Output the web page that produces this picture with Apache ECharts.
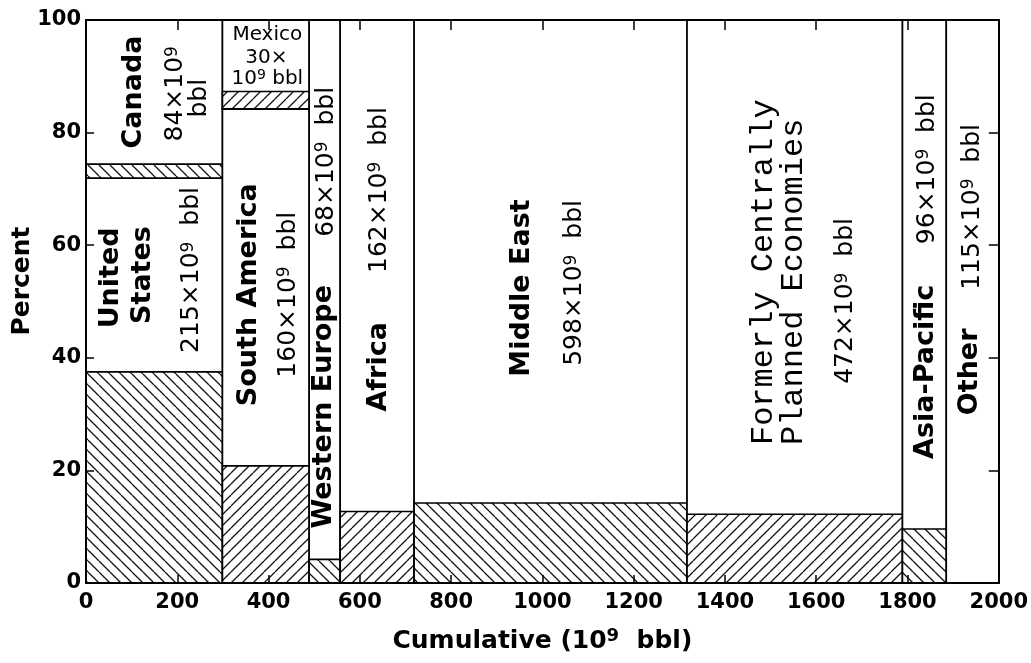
<!DOCTYPE html>
<html>
<head>
<meta charset="utf-8">
<script src="https://cdn.jsdelivr.net/npm/echarts@6/dist/echarts.min.js"></script>
<style>
  html, body { margin: 0; background: #fff; }
  #chart { width: 1031px; height: 663px; }
</style>
</head>
<body>
<div id="chart"></div>
<script>
// reserves by region (10^9 bbl), stacked into shared columns where needed
var regions = ['United States', 'Canada', 'South America', 'Mexico', 'Western Europe',
    'Africa', 'Middle East', 'Formerly Centrally Planned Economies', 'Asia-Pacific', 'Other'];
var reserves = [215, 84, 160, 30, 68, 162, 598, 472, 96, 115];
var columnOf = [0, 0, 1, 1, 2, 3, 4, 5, 6, 7];
// hatched (already produced) height, percent of column
var producedPct = [37.5, 2.5, 20.8, 3.1, 4.2, 12.7, 14.2, 12.2, 9.6, 0];
var xTickStep = 200;
var yTickStep = 20;

// hatch direction per region
var hatchDir = ['\\', '\\', '/', '/', '\\', '/', '\\', '/', '\\', ''];

// label lines: [text, style, dx px from column centre, y percent, rotated, align]
var labelCfg = [
    [['United', 'name', -43.5, 54.2], ['States', 'name', -11.5, 54.7], ['215\u00d710{s|9}  bbl', 'num', 37.5, 55.6]],
    [['Canada', 'name', -20.5, 87.2], ['84\u00d710{s|9}', 'num', 21.5, 86.9], ['bbl', 'num', 45.5, 86.1]],
    [['South America', 'name', -16.5, 51.2], ['160\u00d710{s|9}  bbl', 'num', 22.5, 51.2]],
    [['Mexico', 'small', 1.5, 97.4, false], ['30\u00d7', 'small', 0.5, 93.3, false], ['10{s|9} bbl', 'small', 1.5, 89.6, false]],
    [['Western Europe', 'name', -0.5, 31.3], ['68\u00d710{s|9}  bbl', 'num', 1.5, 74.8]],
    [['Africa', 'name', 2, 38.4], ['162\u00d710{s|9}  bbl', 'num', 2, 69.8]],
    [['Middle East', 'name', -29, 52.4], ['598\u00d710{s|9}  bbl', 'num', 24, 53.3]],
    [['Formerly Centrally', 'mono', -31, 24.5, true, 'left'], ['Planned Economies', 'mono', -1, 24.5, true, 'left'], ['472\u00d710{s|9}  bbl', 'num', 51, 50.1]],
    [['Asia-Pacific', 'name', 2, 37.5], ['96\u00d710{s|9}  bbl', 'num', 3, 73.5]],
    [['Other', 'name', -3, 37.5], ['115\u00d710{s|9}  bbl', 'num', -0.5, 66.8]]
];
var fonts = {
    name: { fontSize: 27, fontFamily: 'DejaVu Sans', fontWeight: 'bold' },
    num: { fontSize: 25, fontFamily: 'DejaVu Sans', fontWeight: 'normal', sup: 17, raise: 7 },
    small: { fontSize: 20, fontFamily: 'DejaVu Sans', fontWeight: 'normal', sup: 14, raise: 6 },
    mono: { fontSize: 32, fontFamily: 'Liberation Mono', fontWeight: 'normal' }
};

// column extents
var colTotals = [];
columnOf.forEach(function (c, i) { colTotals[c] = (colTotals[c] || 0) + reserves[i]; });
var colStart = [];
var acc = 0;
colTotals.forEach(function (t, c) { colStart[c] = acc; acc += t; });

var used = [];
var items = regions.map(function (name, i) {
    var c = columnOf[i];
    var base = used[c] || 0;
    var share = reserves[i] / colTotals[c] * 100;
    used[c] = base + share;
    return [colStart[c], colStart[c] + colTotals[c], base, base + share, producedPct[i], i];
});

function hatchPattern(dir) {
    var s = 11;
    var cv = document.createElement('canvas');
    cv.width = s; cv.height = s;
    var g = cv.getContext('2d');
    g.fillStyle = '#fff';
    g.fillRect(0, 0, s, s);
    g.strokeStyle = '#111';
    g.lineWidth = 1.3;
    g.beginPath();
    for (var k = -1; k <= 1; k++) {
        if (dir === '\\') { g.moveTo(k * s, 0); g.lineTo(k * s + s, s); }
        else { g.moveTo(k * s, s); g.lineTo(k * s + s, 0); }
    }
    g.stroke();
    return { image: cv, repeat: 'repeat' };
}
var patterns = { '\\': hatchPattern('\\'), '/': hatchPattern('/') };

function renderItem(params, api) {
    var x0 = api.value(0), x1 = api.value(1), y0 = api.value(2), y1 = api.value(3);
    var h = api.value(4), idx = api.value(5);
    var p0 = api.coord([x0, y0]);
    var p1 = api.coord([x1, y1]);
    var children = [{
        type: 'rect',
        shape: { x: p0[0], y: p1[1], width: p1[0] - p0[0], height: p0[1] - p1[1] },
        style: { fill: '#fff', stroke: '#000', lineWidth: 1.6 }
    }];
    if (h > 0) {
        var ph = api.coord([x1, y0 + h]);
        children.push({
            type: 'rect',
            shape: { x: p0[0], y: ph[1], width: p1[0] - p0[0], height: p0[1] - ph[1] },
            style: { fill: patterns[hatchDir[idx]], stroke: '#000', lineWidth: 1.6 }
        });
    }
    var cx = (p0[0] + p1[0]) / 2;
    labelCfg[idx].forEach(function (l) {
        var f = fonts[l[1]];
        var rot = l[4] !== false;
        var style = {
            text: l[0],
            fontSize: f.fontSize,
            fontFamily: f.fontFamily,
            fontWeight: f.fontWeight,
            fill: '#000',
            align: l[5] || 'center',
            verticalAlign: 'middle'
        };
        if (f.sup) {
            style.rich = {
                s: { fontSize: f.sup, fontFamily: f.fontFamily, fill: '#000', padding: [0, 0, f.raise, 0] }
            };
        }
        children.push({
            type: 'text',
            x: cx + l[2],
            y: api.coord([x0, l[3]])[1],
            rotation: rot ? Math.PI / 2 : 0,
            z2: 10,
            style: style
        });
    });
    return { type: 'group', children: children };
}

var axisLineStyle = { color: '#000', width: 2 };
var tickStyle = { color: '#000', width: 1.5 };
var tickFont = { color: '#000', fontSize: 21, fontFamily: 'DejaVu Sans', fontWeight: 'bold' };

var option = {
    animation: false,
    backgroundColor: '#fff',
    grid: { left: 86, right: 28, top: 20, bottom: 80 },
    xAxis: [{
        type: 'value', min: 0, max: 2000, interval: xTickStep, z: 5,
        axisLine: { show: true, onZero: false, lineStyle: axisLineStyle },
        axisTick: { inside: true, length: 8, lineStyle: tickStyle },
        axisLabel: Object.assign({ margin: 9, formatter: function (v) { return String(v); } }, tickFont),
        splitLine: { show: false },
        name: 'Cumulative (10{s|9}  bbl)',
        nameLocation: 'middle',
        nameGap: 44,
        nameTextStyle: {
            color: '#000', fontSize: 25, fontFamily: 'DejaVu Sans', fontWeight: 'bold',
            rich: { s: { fontSize: 18, fontFamily: 'DejaVu Sans', fontWeight: 'bold', color: '#000', padding: [0, 0, 10, 0] } }
        }
    }, {
        type: 'value', position: 'top', min: 0, max: 2000, interval: xTickStep, z: 5,
        axisLine: { show: true, onZero: false, lineStyle: axisLineStyle },
        axisTick: { inside: true, length: 10, lineStyle: tickStyle },
        axisLabel: { show: false },
        splitLine: { show: false }
    }],
    yAxis: [{
        type: 'value', min: 0, max: 100, interval: yTickStep, z: 5,
        axisLine: { show: true, onZero: false, lineStyle: axisLineStyle },
        axisTick: { show: true, inside: true, length: 8, lineStyle: tickStyle },
        axisLabel: Object.assign({ margin: 5 }, tickFont),
        splitLine: { show: false }
    }, {
        type: 'value', position: 'right', min: 0, max: 100, interval: yTickStep, z: 5,
        axisLine: { show: true, onZero: false, lineStyle: axisLineStyle },
        axisTick: { show: true, inside: true, length: 10, lineStyle: tickStyle },
        axisLabel: { show: false },
        splitLine: { show: false }
    }],
    graphic: [{
        type: 'text',
        x: 22, y: 281,
        rotation: Math.PI / 2,
        style: {
            text: 'Percent', fontSize: 25, fontFamily: 'DejaVu Sans', fontWeight: 'bold', fill: '#000',
            align: 'center', verticalAlign: 'middle'
        }
    }],
    series: [{
        type: 'custom',
        silent: true,
        renderItem: renderItem,
        encode: { x: [0, 1], y: [2, 3] },
        data: items,
        z: 1
    }]
};

var chart = echarts.init(document.getElementById('chart'));
chart.setOption(option);
</script>
</body>
</html>
